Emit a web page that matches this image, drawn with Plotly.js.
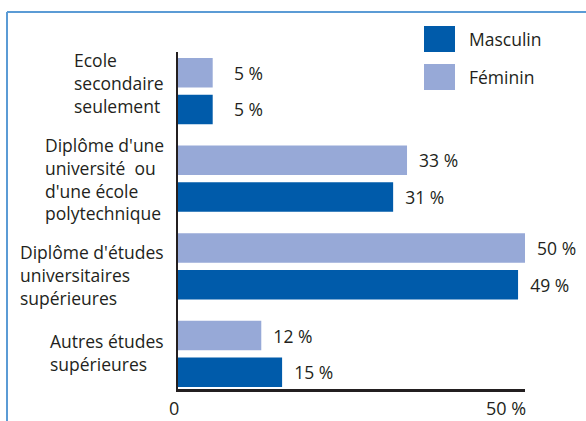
<!DOCTYPE html>
<html><head><meta charset="utf-8">
<script src="https://cdn.plot.ly/plotly-3.0.1.min.js"></script>
<style>html,body{margin:0;padding:0;background:#fff;} #chart{width:586px;height:421px;}</style>
</head><body><div id="chart"></div>
<script>
// ---- data ----
const categories = [
  "Ecole<br>secondaire<br>seulement",
  "Diplôme d'une<br>université\u00a0 ou<br>d'une école<br>polytechnique",
  "Diplôme d'études<br>universitaires<br>supérieures",
  "Autres études<br>supérieures"
];
const feminin = [5, 33, 50, 12];
const masculin = [5, 31, 49, 15];
const seriesNames = ["Masculin", "Féminin"];
const tickValues = [0, 50];
const tickLabels = ["0", "50 %"];

// ---- style / layout ----
const W = 586, H = 421;
const M = {l: 178, r: 61, t: 52, b: 32};
const PW = W - M.l - M.r, PH = H - M.t - M.b;
const px = x => (x - M.l) / PW;
const py = y => (H - M.b - y) / PH;
const FONT = "Open Sans, Liberation Sans, sans-serif";
const FS = 17.5;
const TXT = "#231f20";
const DARK = "#005baa";
const LIGHT = "#97a9d7";
const FRAME = "#5b9bd5";
const labelShift = [8, 0, -9, 1];

const nb = n => "\u00a0".repeat(n);
const lab = v => nb(v < 10 ? 4 : 2) + v + " %";

const traces = [
  {type: "bar", orientation: "h", name: seriesNames[1], y: categories, x: feminin,
   marker: {color: LIGHT, line: {width: 0}},
   text: feminin.map(lab), textposition: "outside", cliponaxis: false, constraintext: "none",
   textfont: {family: FONT, size: FS, color: TXT}, hoverinfo: "skip"},
  {type: "bar", orientation: "h", name: seriesNames[0], y: categories, x: masculin,
   marker: {color: DARK, line: {width: 0}},
   text: masculin.map(lab), textposition: "outside", cliponaxis: false, constraintext: "none",
   textfont: {family: FONT, size: FS, color: TXT}, hoverinfo: "skip"}
];

const annotations = [];
categories.forEach((c, i) => {
  annotations.push({xref: "paper", yref: "y", x: 0, y: c, xanchor: "right", yanchor: "middle",
    xshift: -12, yshift: labelShift[i], align: "left", showarrow: false, text: c,
    font: {family: FONT, size: FS, color: TXT}});
});
tickValues.forEach((v, i) => {
  annotations.push({xref: "x", yref: "paper", x: v, y: 0, xanchor: "right", yanchor: "top",
    xshift: 3, yshift: -5, showarrow: false, text: tickLabels[i], font: {family: FONT, size: 18, color: TXT}});
});
// legend text
annotations.push({xref: "paper", yref: "paper", x: px(467), y: py(39), xanchor: "left", yanchor: "middle",
  showarrow: false, text: seriesNames[0], font: {family: FONT, size: FS, color: TXT}});
annotations.push({xref: "paper", yref: "paper", x: px(467), y: py(77), xanchor: "left", yanchor: "middle",
  showarrow: false, text: seriesNames[1], font: {family: FONT, size: FS, color: TXT}});

const shapes = [
  {type: "line", xref: "paper", yref: "paper", x0: px(7), y0: py(12), x1: px(600), y1: py(12),
   line: {color: FRAME, width: 2}},
  {type: "line", xref: "paper", yref: "paper", x0: px(7), y0: py(12), x1: px(7), y1: py(430),
   line: {color: FRAME, width: 2}},
  {type: "rect", xref: "paper", yref: "paper", x0: px(424), x1: px(455), y0: py(26), y1: py(52),
   fillcolor: DARK, line: {width: 0}},
  {type: "rect", xref: "paper", yref: "paper", x0: px(424), x1: px(455), y0: py(64), y1: py(90),
   fillcolor: LIGHT, line: {width: 0}}
];

const layout = {
  width: W, height: H, margin: M,
  paper_bgcolor: "#fff", plot_bgcolor: "#fff",
  showlegend: false, barmode: "group", bargap: 0.162, bargroupgap: 0.196,
  xaxis: {range: [0, 50], showgrid: false, zeroline: false, showticklabels: false, ticks: "",
          showline: true, linecolor: TXT, linewidth: 2.5, fixedrange: true},
  yaxis: {type: "category", categoryorder: "array", categoryarray: categories,
          range: [3.40, -0.446], showgrid: false, zeroline: false, showticklabels: false, ticks: "",
          showline: true, linecolor: TXT, linewidth: 2.5, fixedrange: true},
  annotations: annotations, shapes: shapes,
  font: {family: FONT, color: TXT}
};

Plotly.newPlot("chart", traces, layout, {staticPlot: true, displayModeBar: false});
</script>
</body></html>
